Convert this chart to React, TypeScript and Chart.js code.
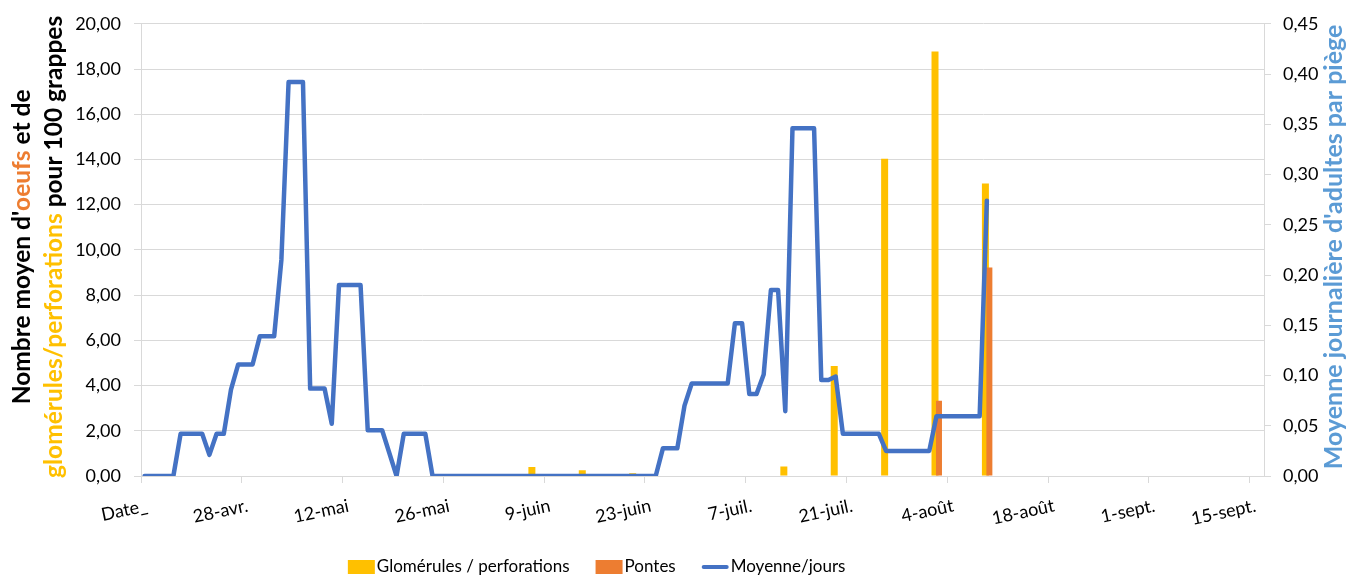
import { useEffect, useRef } from "react";
import { Chart, registerables } from "chart.js";

Chart.register(...registerables);

// X axis: day index counted from 14-avr. (day 0); one tick label every 14 days
const tickLabels = ["Date_", "28-avr.", "12-mai", "26-mai", "9-juin", "23-juin", "7-juil.", "21-juil.", "4-août", "18-août", "1-sept.", "15-sept."];
const tickStepDays = 14;
const totalDays = 156;

// Moyenne/jours (right axis) — day index / value at each break of the line
const lineDays = [0, 4, 5, 8, 9, 10, 11, 12, 13, 15, 16, 18, 19, 20, 22, 23, 25, 26, 27, 30, 31, 33, 35, 36, 39, 40, 71, 72, 74, 75, 76, 81, 82, 83, 84, 85, 86, 87, 88, 89, 90, 93, 94, 95, 96, 97, 102, 103, 109, 110, 116, 117];
const lineValues = [0, 0, 0.042, 0.042, 0.021, 0.042, 0.042, 0.086, 0.111, 0.111, 0.139, 0.139, 0.215, 0.392, 0.392, 0.087, 0.087, 0.052, 0.19, 0.19, 0.0455, 0.0455, 0, 0.042, 0.042, 0, 0, 0.0275, 0.0275, 0.07, 0.092, 0.092, 0.152, 0.152, 0.0815, 0.0815, 0.101, 0.185, 0.185, 0.0645, 0.346, 0.346, 0.0955, 0.0955, 0.099, 0.042, 0.042, 0.025, 0.025, 0.0595, 0.0595, 0.274];

// Glomérules / perforations (left axis)
const glomDays = [54, 61, 68, 89, 96, 103, 110, 117];
const glomValues = [0.4, 0.25, 0.12, 0.42, 4.86, 14.03, 18.78, 12.94];

// Pontes (left axis)
const ponteDays = [110, 117];
const ponteValues = [3.33, 9.22];

const YELLOW = "#FFC000";
const ORANGE = "#ED7D31";
const BLUE = "#4472C4";
const LIGHT_BLUE = "#5B9BD5";
const GRID = "#d9d9d9";
const TEXT = "#000000";
const FONT = "Lato";

const W = 1356;
const H = 579;

const fmt = (v: number) => v.toFixed(2).replace(".", ",");

type Seg = { text: string; color: string };

const leftTitle1: Seg[] = [
  { text: "Nombre moyen d'", color: TEXT },
  { text: "oeufs", color: ORANGE },
  { text: " et de", color: TEXT },
];
const leftTitle2: Seg[] = [
  { text: "glomérules/perforations", color: YELLOW },
  { text: " pour 100 grappes", color: TEXT },
];
const rightTitle: Seg[] = [{ text: "Moyenne journalière d'adultes par piège", color: LIGHT_BLUE }];

const titlePlugin = {
  id: "richTitles",
  afterDraw(chart: any) {
    const ctx = chart.ctx as CanvasRenderingContext2D;
    const a = chart.chartArea;
    const cy = (a.top + a.bottom) / 2 - 3;
    const drawRotated = (segs: Seg[], baseX: number, size: number) => {
      ctx.save();
      ctx.font = `bold ${size}px ${FONT}`;
      const widths = segs.map((s) => ctx.measureText(s.text).width);
      const total = widths.reduce((p, c) => p + c, 0);
      ctx.translate(baseX, cy);
      ctx.rotate(-Math.PI / 2);
      ctx.textAlign = "left";
      ctx.textBaseline = "alphabetic";
      let x = -total / 2;
      segs.forEach((s, i) => {
        ctx.fillStyle = s.color;
        ctx.fillText(s.text, x, 0);
        x += widths[i];
      });
      ctx.restore();
    };
    drawRotated(leftTitle1, a.left - 111, 24.5);
    drawRotated(leftTitle2, a.left - 79, 24.5);
    drawRotated(rightTitle, a.right + 78, 25);
  },
};

const legendPlugin = {
  id: "bottomLegend",
  afterDraw(chart: any) {
    const ctx = chart.ctx as CanvasRenderingContext2D;
    ctx.save();
    ctx.font = `17px ${FONT}`;
    const items = chart.data.datasets.map((ds: any) => ({
      text: ds.label as string,
      color: (ds.type === "line" ? ds.borderColor : ds.backgroundColor) as string,
      isLine: ds.type === "line",
    }));
    const box = 27;
    const gap = 2;
    const spacing = 26;
    const widths = items.map((it: any) => box + gap + ctx.measureText(it.text).width);
    const total = widths.reduce((p: number, c: number) => p + c, 0) + spacing * (items.length - 1);
    let x = chart.width * 0.44 - total / 2;
    const y = chart.height - 12;
    items.forEach((it: any, i: number) => {
      if (it.isLine) {
        ctx.strokeStyle = it.color;
        ctx.lineWidth = 4;
        ctx.lineCap = "round";
        ctx.beginPath();
        ctx.moveTo(x + 2, y);
        ctx.lineTo(x + box - 2, y);
        ctx.stroke();
      } else {
        ctx.fillStyle = it.color;
        ctx.fillRect(x, y - 7, box, 14);
      }
      ctx.fillStyle = TEXT;
      ctx.textAlign = "left";
      ctx.textBaseline = "middle";
      ctx.fillText(it.text, x + box + gap, y);
      x += widths[i] + spacing;
    });
    ctx.restore();
  },
};

export default function App() {
  const ref = useRef<HTMLCanvasElement>(null);

  useEffect(() => {
    const canvas = ref.current;
    if (!canvas) return;
    Chart.defaults.font.family = FONT;
    Chart.defaults.color = TEXT;

    const xMin = -0.5;
    const xMax = totalDays - 0.5;
    const tickValues = tickLabels.map((_, i) => i * tickStepDays + xMin);
    const yellowShift = 0.2;
    const orangeShift = -0.35;

    const chart = new Chart(canvas, {
      type: "bar",
      data: {
        datasets: [
          {
            type: "bar",
            label: "Glomérules / perforations",
            data: glomDays.map((d, i) => ({ x: d, y: glomValues[i] })),
            backgroundColor: YELLOW,
            xAxisID: "xy",
            yAxisID: "y",
            grouped: false,
            maxBarThickness: 7,
            borderWidth: 0,
            order: 2,
          } as any,
          {
            type: "bar",
            label: "Pontes",
            data: ponteDays.map((d, i) => ({ x: d, y: ponteValues[i] })),
            backgroundColor: ORANGE,
            xAxisID: "xo",
            yAxisID: "y",
            grouped: false,
            maxBarThickness: 6,
            borderWidth: 0,
            order: 1,
          } as any,
          {
            type: "line",
            label: "Moyenne/jours",
            data: lineDays.map((d, i) => ({ x: d, y: lineValues[i] })),
            borderColor: BLUE,
            backgroundColor: BLUE,
            borderWidth: 4.5,
            pointRadius: 0,
            tension: 0,
            borderJoinStyle: "round",
            borderCapStyle: "round",
            xAxisID: "x",
            yAxisID: "y1",
            order: 0,
          } as any,
        ],
      },
      options: {
        responsive: false,
        animation: false,
        layout: { padding: { top: 17, left: 0, right: 0, bottom: 0 } },
        plugins: {
          legend: { display: false },
          tooltip: { enabled: false },
          title: { display: false },
        },
        scales: {
          x: {
            type: "linear",
            position: "bottom",
            min: xMin,
            max: xMax,
            offset: false,
            grid: { display: true, drawOnChartArea: false, drawTicks: true, tickLength: 7, color: GRID, offset: false },
            border: { display: true, color: GRID },
            afterBuildTicks: (axis: any) => {
              axis.ticks = tickValues.map((v) => ({ value: v }));
            },
            afterFit: (axis: any) => {
              axis.height = 103;
            },
            ticks: {
              autoSkip: false,
              maxRotation: 12,
              minRotation: 12,
              padding: 12,
              labelOffset: 6,
              font: { size: 18, family: FONT },
              color: TEXT,
              callback: (_v: any, i: number) => tickLabels[i],
            },
          },
          xy: {
            type: "linear",
            display: false,
            min: xMin + yellowShift,
            max: xMax + yellowShift,
            offset: false,
            grid: { offset: false },
          },
          xo: {
            type: "linear",
            display: false,
            min: xMin + orangeShift,
            max: xMax + orangeShift,
            offset: false,
            grid: { offset: false },
          },
          y: {
            type: "linear",
            position: "left",
            min: 0,
            max: 20,
            grid: { color: GRID, lineWidth: 1, tickLength: 7, drawTicks: true },
            border: { display: true, color: GRID },
            afterFit: (axis: any) => {
              axis.width = 141;
            },
            ticks: {
              stepSize: 2,
              padding: 13,
              font: { size: 18, family: FONT },
              color: TEXT,
              callback: (v: any) => fmt(Number(v)),
            },
          },
          y1: {
            type: "linear",
            position: "right",
            min: 0,
            max: 0.45,
            grid: { drawOnChartArea: false, drawTicks: true, tickLength: 7, color: GRID },
            border: { display: true, color: GRID },
            afterFit: (axis: any) => {
              axis.width = 92;
            },
            ticks: {
              stepSize: 0.05,
              padding: 12,
              font: { size: 18, family: FONT },
              color: TEXT,
              callback: (v: any) => fmt(Number(v)),
            },
          },
        },
      } as any,
      plugins: [titlePlugin, legendPlugin],
    });

    return () => chart.destroy();
  }, []);

  return (
    <div style={{ position: "absolute", left: 0, top: 0, width: W, height: H, background: "#fff" }}>
      <canvas ref={ref} width={W} height={H} style={{ width: W, height: H, display: "block" }} />
    </div>
  );
}
